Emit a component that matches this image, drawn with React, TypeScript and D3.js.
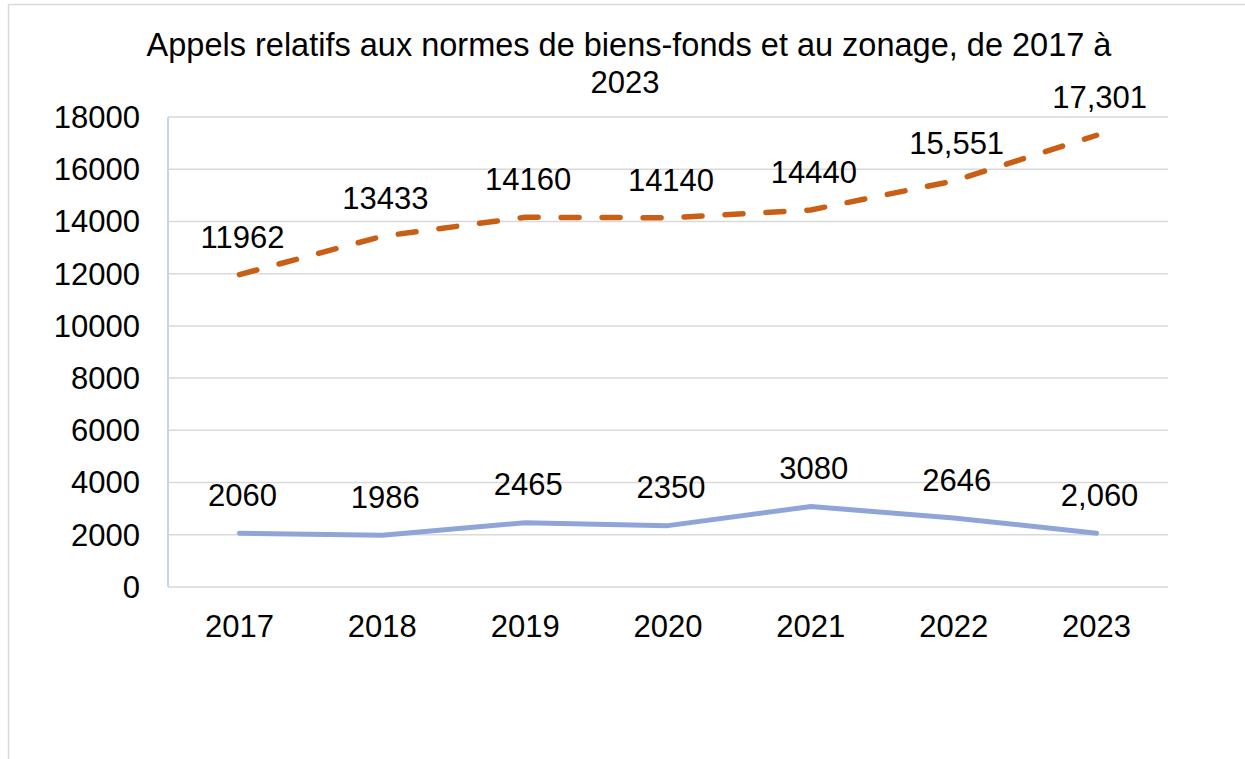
import React from "react";
import * as d3 from "d3";

const titleLines = ["Appels relatifs aux normes de biens-fonds et au zonage, de 2017 à", "2023"];
const years = ["2017", "2018", "2019", "2020", "2021", "2022", "2023"];
const seriesOrange = [11962, 13433, 14160, 14140, 14440, 15551, 17301];
const labelsOrange = ["11962", "13433", "14160", "14140", "14440", "15,551", "17,301"];
const seriesBlue = [2060, 1986, 2465, 2350, 3080, 2646, 2060];
const labelsBlue = ["2060", "1986", "2465", "2350", "3080", "2646", "2,060"];
const yTicks = [0, 2000, 4000, 6000, 8000, 10000, 12000, 14000, 16000, 18000];

const W = 1245;
const H = 759;
const left = 168;
const right = 1168;
const top = 117;
const bottom = 587;
const FONT = "Liberation Sans, Arial, sans-serif";

export default function App() {
  const x = d3.scaleBand<string>().domain(years).range([left, right]).padding(0);
  const y = d3.scaleLinear().domain([0, 18000]).range([bottom, top]);
  const cx = (d: string) => (x(d) as number) + x.bandwidth() / 2;
  const line = d3
    .line<number>()
    .x((_, i) => cx(years[i]))
    .y((v) => y(v));

  return (
    <svg
      width={W}
      height={H}
      style={{ position: "absolute", left: 0, top: 0, background: "#fff" }}
      fontFamily={FONT}
    >
      <rect x={8.5} y={4.5} width={W + 20} height={H + 20} fill="#fff" stroke="#d9d9d9" strokeWidth={1.5} />
      <text x={629} y={56} textAnchor="middle" fontSize={32.5} fill="#000">
        {titleLines[0]}
      </text>
      <text x={625} y={93} textAnchor="middle" fontSize={31} fill="#000">
        {titleLines[1]}
      </text>
      {yTicks.map((t) => (
        <g key={t}>
          {t > 0 && <line x1={left} x2={right} y1={y(t)} y2={y(t)} stroke="#d9d9d9" strokeWidth={1.5} />}
          <text x={140} y={y(t)} dy="0.35em" textAnchor="end" fontSize={31} fill="#000">
            {t}
          </text>
        </g>
      ))}
      <line x1={left} x2={right} y1={bottom} y2={bottom} stroke="#d9d9d9" strokeWidth={1.5} />
      <line x1={left} x2={left} y1={top} y2={bottom} stroke="#c9d4e8" strokeWidth={2} />
      {years.map((yr) => (
        <text key={yr} x={cx(yr)} y={626} dy="0.35em" textAnchor="middle" fontSize={31} fill="#000">
          {yr}
        </text>
      ))}
      <path d={line(seriesBlue) || ""} fill="none" stroke="#8fa5d8" strokeWidth={5} strokeLinecap="round" strokeLinejoin="round" />
      <path
        d={line(seriesOrange) || ""}
        fill="none"
        stroke="#c95f14"
        strokeWidth={5.5}
        strokeLinecap="round"
        strokeDasharray="18 23"
      />
      {seriesOrange.map((v, i) => (
        <text key={"o" + i} x={cx(years[i]) + 3} y={y(v) - 38} dy="0.35em" textAnchor="middle" fontSize={31} fill="#000">
          {labelsOrange[i]}
        </text>
      ))}
      {seriesBlue.map((v, i) => (
        <text key={"b" + i} x={cx(years[i]) + 3} y={y(v) - 38} dy="0.35em" textAnchor="middle" fontSize={31} fill="#000">
          {labelsBlue[i]}
        </text>
      ))}
    </svg>
  );
}
